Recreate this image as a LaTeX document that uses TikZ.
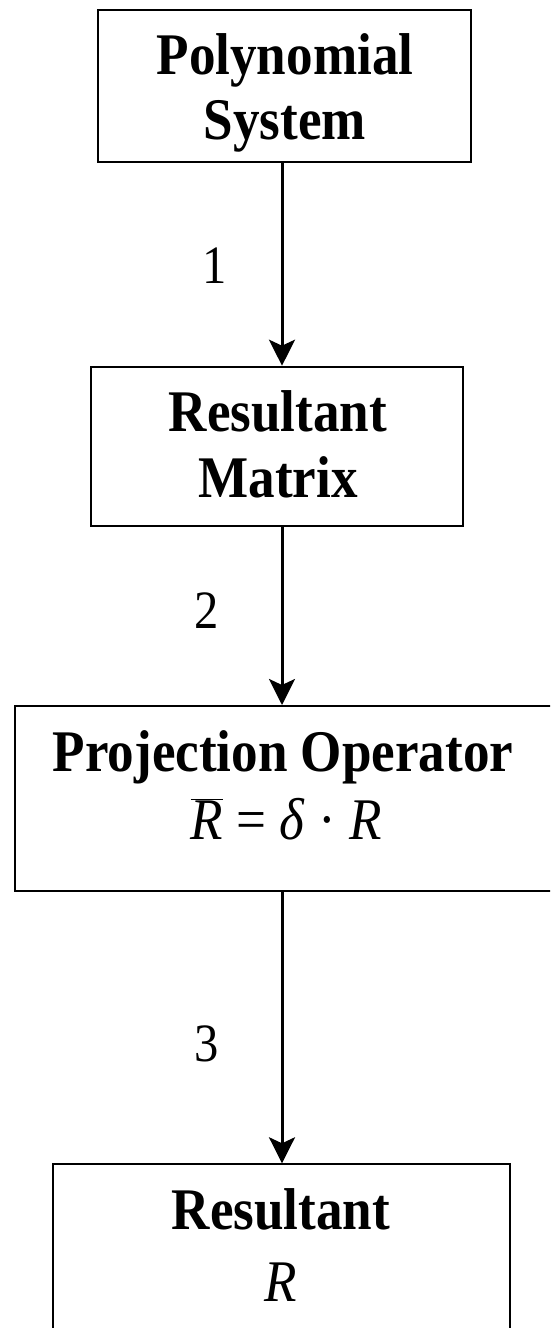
\documentclass[tikz,border=0pt]{standalone}
\usepackage{fontspec}
\setmainfont{Liberation Serif}[FakeStretch=0.9]
\usetikzlibrary{arrows.meta}
\begin{document}
\begin{tikzpicture}[x=1pt,y=-1pt,
  box/.style={draw,line width=2pt,rectangle,inner sep=0pt},
  title/.style={anchor=base,inner sep=0pt,font=\fontsize{59}{62}\selectfont\bfseries},
  mathtxt/.style={anchor=base,inner sep=0pt,font=\fontsize{59}{62}\selectfont},
  num/.style={anchor=base,inner sep=0pt,font=\fontsize{54}{58}\selectfont},
  arr/.style={line width=3pt,-{Stealth[length=26pt,width=26pt,inset=6pt]}}]
\useasboundingbox (0,0) rectangle (550,1328);
\clip (0,0) rectangle (550,1328);
\node[box,minimum width=372.7pt,minimum height=151.7pt] (b1) at (284.65,85.85) {};
\node[box,minimum width=372.3pt,minimum height=159.3pt] (b2) at (277.15,446.35) {};
\node[box,minimum width=550.3pt,minimum height=185pt] (b3) at (289.85,798.5) {};
\node[box,minimum width=456.8pt,minimum height=180.7pt] (b4) at (281.1,1254.65) {};
\node[title] (t1a) at (285,74) {Polynomial};
\node[title] (t1b) at (285,139) {System};
\node[title] (t2a) at (278,431) {Resultant};
\node[title] (t2b) at (278,497) {Matrix};
\node[title] (t3a) at (283,771) {Projection Operator};
\node[mathtxt] (t3b) at (286,839) {$\overline{\hbox{\itshape R}}$ = \textit{δ} · \textit{R}};
\node[title] (t4a) at (281,1229) {Resultant};
\node[mathtxt] (t4b) at (281,1301) {\textit{R}};
\coordinate (ax) at (282,0);
\draw[arr] (b1.south -| ax) -- (b2.north -| ax);
\draw[arr] (b2.south -| ax) -- (b3.north -| ax);
\draw[arr] (b3.south -| ax) -- (b4.north -| ax);
\node[num] (l1) at (215,283) {1};
\node[num] (l2) at (207,628) {2};
\node[num] (l3) at (207,1061) {3};
\end{tikzpicture}
\end{document}
